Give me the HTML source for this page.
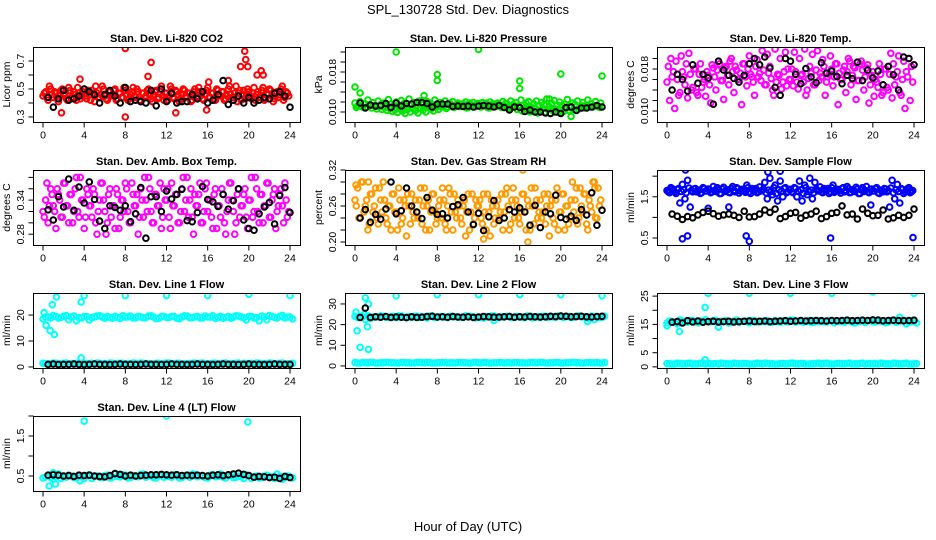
<!DOCTYPE html>
<html><head><meta charset="utf-8"><style>
html,body{margin:0;padding:0;background:#fff;}
svg{display:block;font-family:"Liberation Sans",Arial,sans-serif;}
</style></head><body>
<svg id="chart" width="936" height="540" viewBox="0 0 936 540">
<text x="468" y="14" text-anchor="middle" font-size="13">SPL_130728  Std. Dev. Diagnostics</text>
<text x="468" y="531" text-anchor="middle" font-size="13">Hour of Day (UTC)</text>
</svg>
<script>
// ---- data ----
const xTicks = [0,4,8,12,16,20,24];
const co2Col = [0.45,0.48,0.42,0.50,0.44,0.47,0.41,0.49,0.46,0.43,0.51,0.44,0.48,0.42,0.47,0.45,0.50,0.43,0.46,0.49,0.41,0.47,0.44,0.52,0.45,0.42,0.48,0.46,0.50,0.43,0.47,0.44,0.49,0.42,0.46,0.51,0.44,0.48,0.41,0.47,0.45,0.50,0.43,0.46,0.49,0.44,0.52,0.42,0.47,0.45,0.50,0.43,0.48,0.41,0.46,0.49,0.44,0.47,0.42,0.50,0.45,0.48,0.43,0.46,0.51,0.44,0.47,0.42,0.49,0.45,0.48,0.43,0.50,0.46,0.44,0.52,0.47,0.42,0.49,0.45,0.48,0.43,0.51,0.46,0.44,0.49,0.42,0.47,0.50,0.45,0.43,0.48,0.46,0.52,0.44,0.47];
const co2OutHr = [8,8,10.5,10.2,19.6,19.7,19.9,19.2,21.2,21.4,20.8,3.6,12.9,1.8,15.9,18,16.1];
const co2OutVal = [0.79,0.30,0.69,0.59,0.77,0.71,0.66,0.66,0.63,0.60,0.60,0.57,0.33,0.33,0.35,0.56,0.55];
const co2Blk = [0.44,0.37,0.43,0.49,0.42,0.43,0.45,0.50,0.48,0.46,0.40,0.46,0.49,0.45,0.40,0.51,0.41,0.42,0.41,0.40,0.49,0.38,0.50,0.41,0.47,0.40,0.41,0.41,0.46,0.43,0.48,0.40,0.42,0.46,0.56,0.39,0.42,0.45,0.40,0.44,0.40,0.42,0.44,0.43,0.47,0.48,0.45,0.37];

const presCol = [0.0118,0.0112,0.0121,0.0110,0.0116,0.0124,0.0113,0.0119,0.0111,0.0122,0.0115,0.0118,0.0112,0.0125,0.0116,0.0113,0.0120,0.0114,0.0123,0.0117,0.0111,0.0126,0.0115,0.0119,0.0113,0.0122,0.0116,0.0110,0.0121,0.0118,0.0114,0.0124,0.0112,0.0119,0.0115,0.0122,0.0110,0.0117,0.0121,0.0113,0.0118,0.0111,0.0116,0.0120,0.0109,0.0115,0.0119,0.0112,0.0117,0.0110,0.0114,0.0118,0.0108,0.0113,0.0116,0.0111,0.0115,0.0109,0.0112,0.0117,0.0107,0.0113,0.0110,0.0105,0.0109,0.0102,0.0106,0.0111,0.0100,0.0104,0.0108,0.0098,0.0103,0.0107,0.0100,0.0105,0.0097,0.0102,0.0106,0.0099,0.0104,0.0101,0.0107,0.0103,0.0109,0.0105,0.0111,0.0106,0.0113,0.0108,0.0114,0.0110,0.0116,0.0111,0.0113,0.0109];
const presOutHr = [0,0.5,4,8,8,12,16,16,20,24,18.9,21,6.7];
const presOutVal = [0.0150,0.0138,0.0220,0.0175,0.0163,0.0225,0.0162,0.0147,0.0176,0.0172,0.0126,0.0091,0.0133];
const presBlk = [0.0118,0.0108,0.0114,0.0112,0.0113,0.0117,0.0109,0.0118,0.0112,0.0117,0.0116,0.0119,0.0119,0.0117,0.0110,0.0116,0.0116,0.0116,0.0111,0.0112,0.0111,0.0112,0.0110,0.0112,0.0113,0.0112,0.0110,0.0113,0.0109,0.0104,0.0110,0.0109,0.0101,0.0104,0.0100,0.0100,0.0098,0.0097,0.0100,0.0097,0.0109,0.0110,0.0103,0.0108,0.0108,0.0110,0.0113,0.0110];

const tempCol = [0.0155,0.0120,0.0165,0.0105,0.0160,0.0135,0.0175,0.0150,0.0125,0.0170,0.0145,0.0180,0.0130,0.0190,0.0155,0.0128,0.0168,0.0115,0.0182,0.0140,0.0195,0.0158,0.0122,0.0185,0.0150,0.0200,0.0135,0.0178,0.0160,0.0112,0.0190,0.0148,0.0205,0.0165,0.0130,0.0198,0.0172,0.0215,0.0150,0.0208,0.0185,0.0140,0.0218,0.0170,0.0200,0.0155,0.0212,0.0180,0.0160,0.0148,0.0175,0.0142,0.0168,0.0155,0.0130,0.0162,0.0172,0.0150,0.0178,0.0158,0.0165,0.0185,0.0155,0.0170,0.0180,0.0165,0.0190,0.0172,0.0160,0.0185,0.0175,0.0195,0.0168,0.0182,0.0158,0.0190,0.0178,0.0165,0.0188,0.0150,0.0175,0.0160,0.0145,0.0170,0.0135,0.0180,0.0140,0.0210,0.0190,0.0165,0.0205,0.0130,0.0195,0.0175,0.0200,0.0185];
const tempBlk = [0.0140,0.0170,0.0160,0.0138,0.0188,0.0153,0.0170,0.0163,0.0113,0.0195,0.0178,0.0168,0.0162,0.0155,0.0168,0.0190,0.0200,0.0188,0.0203,0.0182,0.0145,0.0130,0.0200,0.0195,0.0170,0.0152,0.0181,0.0165,0.0154,0.0192,0.0172,0.0176,0.0166,0.0152,0.0168,0.0162,0.0193,0.0158,0.0178,0.0163,0.0176,0.0150,0.0185,0.0169,0.0140,0.0203,0.0200,0.0188];

const ambCol = [0.32,0.34,0.30,0.36,0.33,0.29,0.35,0.31,0.37,0.33,0.30,0.35,0.32,0.38,0.31,0.34,0.29,0.36,0.33,0.31,0.35,0.28,0.34,0.37,0.32,0.30,0.36,0.33,0.29,0.35,0.31,0.34,0.37,0.32,0.30,0.35,0.33,0.28,0.36,0.31,0.34,0.38,0.32,0.30,0.35,0.33,0.29,0.36,0.34,0.31,0.37,0.33,0.35,0.30,0.36,0.32,0.38,0.34,0.31,0.35,0.33,0.37,0.30,0.36,0.32,0.34,0.29,0.36,0.33,0.31,0.35,0.28,0.34,0.37,0.32,0.30,0.36,0.33,0.35,0.31,0.34,0.38,0.32,0.36,0.30,0.35,0.33,0.37,0.31,0.34,0.36,0.32,0.35,0.33,0.37,0.31];
const ambBlk = [0.323,0.305,0.346,0.328,0.377,0.322,0.363,0.335,0.372,0.341,0.303,0.290,0.330,0.327,0.322,0.330,0.302,0.316,0.362,0.273,0.346,0.346,0.320,0.356,0.342,0.350,0.359,0.304,0.302,0.318,0.364,0.341,0.337,0.329,0.350,0.324,0.339,0.360,0.305,0.290,0.287,0.316,0.328,0.336,0.298,0.348,0.362,0.318];

const rhCol = [0.27,0.29,0.24,0.30,0.26,0.22,0.28,0.25,0.29,0.23,0.27,0.30,0.24,0.26,0.22,0.28,0.25,0.29,0.23,0.27,0.21,0.26,0.28,0.24,0.25,0.27,0.23,0.29,0.26,0.22,0.28,0.25,0.24,0.27,0.29,0.23,0.26,0.28,0.22,0.25,0.27,0.24,0.26,0.21,0.28,0.25,0.23,0.27,0.26,0.24,0.28,0.22,0.25,0.27,0.23,0.26,0.24,0.28,0.25,0.29,0.22,0.27,0.24,0.26,0.23,0.28,0.25,0.27,0.22,0.26,0.29,0.24,0.27,0.25,0.23,0.28,0.26,0.24,0.27,0.22,0.25,0.28,0.26,0.23,0.27,0.25,0.29,0.24,0.26,0.28,0.23,0.27,0.25,0.30,0.24,0.26];
const rhOutHr = [16.3,12.5,16.8,0.1,1.3,23.3];
const rhOutVal = [0.32,0.205,0.20,0.295,0.30,0.29];
const rhBlk = [0.240,0.254,0.233,0.246,0.238,0.255,0.300,0.247,0.252,0.290,0.260,0.250,0.239,0.274,0.253,0.246,0.247,0.240,0.259,0.262,0.274,0.250,0.229,0.248,0.219,0.242,0.269,0.236,0.240,0.254,0.250,0.257,0.250,0.228,0.261,0.224,0.250,0.247,0.278,0.241,0.238,0.243,0.236,0.254,0.245,0.282,0.228,0.253];

const flowCol = [1.65,1.60,1.70,1.62,1.68,1.35,1.80,1.45,1.90,1.25,1.62,1.70,1.66,1.58,1.72,1.64,1.69,1.60,1.75,1.63,1.67,1.58,1.73,1.65,1.61,1.70,1.66,1.72,1.59,1.68,1.64,1.78,1.62,1.70,1.66,1.60,1.74,1.65,1.85,1.45,1.95,1.55,1.78,1.40,1.88,1.50,1.72,1.62,1.68,1.60,1.70,1.64,1.67,1.58,1.72,1.63,1.66,1.60,1.69,1.64,1.62,1.70,1.65,1.58,1.72,1.61,1.68,1.64,1.70,1.62,1.75,1.60,1.67,1.63,1.69,1.58,1.72,1.65,1.62,1.68,1.64,1.70,1.60,1.66,1.62,1.69,1.65,1.71,1.60,1.67,1.63,1.70,1.58,1.66,1.72,1.62];
const flowOutHr = [1.5,2.0,7.7,8.0,15.9,23.9,1.8,9.8,11.0,19.8,6.0,4.0];
const flowOutVal = [0.48,0.55,0.55,0.42,0.50,0.51,2.15,2.10,2.12,1.30,1.25,1.22];
const flowBlk = [1.08,1.03,0.95,1.02,0.99,1.06,1.12,1.15,1.09,1.03,1.06,1.08,1.05,1.00,1.15,1.01,1.02,1.08,1.18,1.12,1.20,0.97,1.02,1.10,1.12,0.98,1.05,1.08,1.15,0.97,1.02,1.10,1.12,1.28,1.06,1.08,0.96,1.20,1.10,1.04,1.05,1.18,0.96,0.99,1.05,1.00,1.05,1.20];

const l1Up = [18.5,19.2,19.8,18.9,19.5,18.2,19.6,19.0,19.4,18.1,19.3,19.7,18.8,19.1,19.5,18.7,19.2,19.6,18.9,19.3,19.0,19.7,18.6,19.4,19.1,19.5,18.8,19.2,19.6,19.0,19.4,18.9,19.3,19.7,19.1,18.8,19.5,19.2,19.6,19.0,19.4,18.9,17.8,19.3,19.8,19.1,19.5,18.9,19.2];
const l1Low = [1.4,1.2,1.5,1.3,1.4,1.2,1.3,1.5,1.4,1.3,1.2,1.4,1.3,1.5,1.3,1.4,1.2,1.3,1.4,1.5,1.3,1.2,1.4,1.3,1.5,1.3,1.4,1.2,1.3,1.4,1.3,1.5,1.2,1.4,1.3,1.4,1.2,1.3,1.5,1.4,1.3,1.2,1.4,1.3,1.5,1.3,1.4,1.2,1.3];
const l1OutHr = [0.1,0.3,0.7,1.1,0.9,1.3,3.7,4,8,12,16,20,24,3.7];
const l1OutVal = [21,16,14,12.5,24,27,25,27.5,27.5,27.5,27.5,28,27.5,3.5];
const l1Blk = [1.0,1.1,0.9,1.0,1.0,1.1,1.0,0.9,1.0,1.1,1.0,1.0,0.9,1.0,1.1,1.0,1.0,0.9,1.0,1.1,1.0,1.0,0.9,1.0,1.1,1.0,1.0,0.9,1.0,1.1,1.0,1.0,0.9,1.0,1.1,1.0,1.0,0.9,1.0,1.1,1.0,1.0,0.9,1.0,1.1,1.0,1.0,1.0];

const l2Up = [24.0,23.5,22.5,23.0,23.8,24.2,23.6,23.9,23.4,24.1,23.7,23.5,24.0,23.8,23.3,24.2,23.6,23.9,23.4,24.0,23.7,23.5,24.1,23.8,23.6,23.2,23.9,24.2,23.5,23.8,24.0,23.6,23.9,23.4,24.1,23.7,23.5,24.0,23.8,23.6,24.2,23.9,23.5,24.0,23.7,23.6,24.1,23.8,23.5];
const l2Low = [1.6,1.4,1.5,1.6,1.4,1.5,1.7,1.5,1.4,1.6,1.5,1.4,1.6,1.5,1.7,1.4,1.5,1.6,1.4,1.5,1.6,1.5,1.4,1.6,1.5,1.7,1.4,1.5,1.6,1.4,1.5,1.6,1.5,1.4,1.6,1.5,1.7,1.4,1.5,1.6,1.4,1.5,1.6,1.5,1.4,1.6,1.5,1.6,1.4];
const l2OutHr = [0.1,0.2,0.5,0.9,1.0,1.2,1.3,1.3,4,8,12,16,20,24,22.6,13.5];
const l2OutVal = [26,17,9,25,33,19,30,8,34,34.5,34.5,34.5,34.5,34,21.5,22];
const l2Blk = [23.5,28.0,23.5,23.8,23.6,23.9,23.5,23.7,23.6,23.4,23.8,23.5,23.6,23.9,24.0,23.7,23.8,23.6,23.9,23.7,23.6,23.8,23.5,23.7,23.9,23.8,23.6,23.7,23.8,23.9,23.6,23.8,23.7,23.9,23.8,23.7,23.8,24.0,23.9,24.1,24.0,23.8,23.9,24.0,23.8,23.7,23.9,24.0];

const l3Up = [15.5,16.0,15.2,16.2,15.8,16.4,15.6,16.1,15.9,16.3,15.7,16.0,15.5,16.2,15.8,16.1,15.6,16.3,15.9,16.0,15.7,16.4,15.8,16.1,16.5,15.9,16.2,16.0,15.8,16.3,16.1,15.9,16.4,16.2,16.0,16.5,15.8,16.3,16.1,16.4,16.0,16.6,16.2,15.9,16.3,16.1,16.5,15.8,16.2];
const l3Low = [1.2,1.0,1.3,1.1,1.2,1.0,1.1,1.3,1.2,1.1,1.0,1.2,1.1,1.3,1.1,1.2,1.0,1.1,1.2,1.3,1.1,1.0,1.2,1.1,1.3,1.1,1.2,1.0,1.1,1.2,1.1,1.3,1.0,1.2,1.1,1.2,1.0,1.1,1.3,1.2,1.1,1.0,1.2,1.1,1.3,1.1,1.2,1.0,1.1];
const l3OutHr = [0,1.2,3.7,4,8,12,16,20,24,3.7,22.6,5];
const l3OutVal = [14.5,12.5,21,26,26,26,26,26.5,26,2.5,17.5,14];
const l3Blk = [15.8,16.0,15.5,16.3,15.9,16.2,15.8,16.0,16.1,15.9,16.0,16.1,15.9,16.0,16.1,16.2,16.0,16.1,16.2,16.0,16.1,16.2,16.3,16.1,16.2,16.4,16.2,16.3,16.4,16.3,16.2,16.4,16.3,16.4,16.5,16.3,16.4,16.5,16.4,16.6,16.5,16.3,16.4,16.5,16.4,16.3,16.4,16.5];

const l4Col = [0.45,0.50,0.42,0.55,0.48,0.52,0.46,0.50,0.44,0.53,0.49,0.47,0.51,0.45,0.55,0.48,0.52,0.46,0.50,0.54,0.47,0.51,0.45,0.53,0.49,0.47,0.52,0.46,0.50,0.55,0.48,0.51,0.45,0.53,0.49,0.47,0.52,0.46,0.50,0.44,0.51,0.48,0.45,0.50,0.47,0.44,0.49,0.46,0.48];
const l4OutHr = [4,12,19.9,0.6,1.2,3.6,1.0];
const l4OutVal = [1.87,2.0,1.85,0.25,0.30,0.38,0.58];
const l4Blk = [0.52,0.53,0.52,0.50,0.51,0.49,0.52,0.51,0.52,0.50,0.49,0.48,0.51,0.56,0.54,0.50,0.52,0.50,0.51,0.52,0.53,0.53,0.54,0.53,0.52,0.53,0.51,0.52,0.51,0.52,0.51,0.50,0.52,0.53,0.51,0.53,0.55,0.57,0.54,0.51,0.47,0.49,0.48,0.46,0.47,0.44,0.49,0.46];

// hour grids (time stamps)
const hrs96 = []; for (let i = 0; i < 96; i++) hrs96.push(i * 0.25);
const hrs49 = []; for (let i = 0; i < 49; i++) hrs49.push(i * 0.5);
const hrsBlk = []; for (let i = 1; i <= 48; i++) hrsBlk.push(i * 0.5);

// ---- drawing ----
const NS = 'http://www.w3.org/2000/svg';
const svg = document.getElementById('chart');
function mk(tag, attrs, parent) {
  const e = document.createElementNS(NS, tag);
  for (const k in attrs) e.setAttribute(k, attrs[k]);
  (parent || svg).appendChild(e);
  return e;
}
const BW = 267, BH = 75;
function panel(p) {
  const g = mk('g', {});
  
  
  const L = p.left, T = p.top;
  const xs = h => L + 10 + h * (247 / 24);
  const ys = v => T + BH - (v - p.ymin) / (p.ymax - p.ymin) * BH;
  const t = mk('text', {x: L + BW / 2, y: T - 5, 'text-anchor': 'middle', 'font-size': 11, 'font-weight': 'bold'}, g);
  t.textContent = p.title;
  
  
  const clip = mk('clipPath', {id: 'c-' + p.name}, g);
  mk('rect', {x: L, y: T, width: BW, height: BH}, clip);
  const pts = mk('g', {'clip-path': 'url(#c-' + p.name + ')', fill: 'none', 'stroke-width': 2}, g);
  function series(hs, vs, color, nm, dense) {
    const sg = mk('g', {stroke: color}, pts);
    
    
    const n = vs.length;
    for (let i = 0; i < n; i++) {
      mk('circle', {cx: xs(hs[i]).toFixed(1), cy: ys(vs[i]).toFixed(1), r: 2.8}, sg);
    }
    if (dense) {
      const step = hs[1] - hs[0];
      for (let i = 0; i < n; i++) {
        mk('circle', {cx: xs(hs[i] + step / 2).toFixed(1), cy: ys(vs[n - 1 - i]).toFixed(1), r: 2.8}, sg);
      }
    }
  }
  p.series.forEach(s => series(s[0], s[1], s[2], p.name + '-' + s[3], s[4]));
  const box = mk('rect', {x: L + .5, y: T + .5, width: BW, height: BH, fill: 'none', stroke: '#000', 'stroke-width': 1}, g);
  
  
  const xa = mk('g', {stroke: '#000', 'stroke-width': 1}, g);
  
  
  const B = T + BH + .5;
  mk('line', {x1: xs(0), x2: xs(24), y1: B, y2: B}, xa);
  xTicks.forEach(v => {
    mk('line', {x1: xs(v), x2: xs(v), y1: B, y2: B + 5}, xa);
    const tx = mk('text', {x: xs(v), y: B + 16, 'text-anchor': 'middle', 'font-size': 10.5, stroke: 'none', fill: '#000'}, xa);
    tx.textContent = v;
  });
  const ya = mk('g', {stroke: '#000', 'stroke-width': 1}, g);
  
  
  const Lx = L + .5;
  mk('line', {x1: Lx, x2: Lx, y1: ys(p.yt[0]), y2: ys(p.yt[p.yt.length - 1])}, ya);
  p.yt.forEach((v, i) => {
    const y = ys(v);
    mk('line', {x1: Lx - 5, x2: Lx, y1: y, y2: y}, ya);
    if (p.yl[i]) {
      const tx = mk('text', {x: 0, y: 0, transform: 'translate(' + (L - 9) + ',' + y + ') rotate(-90)', 'text-anchor': 'middle', 'font-size': 10.5, stroke: 'none', fill: '#000'}, ya);
      tx.textContent = p.yl[i];
    }
  });
  const yt = mk('text', {x: 0, y: 0, transform: 'translate(' + (L - 23) + ',' + (T + BH / 2) + ') rotate(-90)', 'text-anchor': 'middle', 'font-size': 10.5}, g);
  yt.textContent = p.ylab;
  
  
}
const C = [33, 345, 657], R = [47, 170, 293, 416];
panel({name: 'co2', title: 'Stan. Dev. Li-820 CO2', left: C[0], top: R[0], ymin: 0.264, ymax: 0.80, ylab: 'Licor ppm',
  yt: [0.3,0.4,0.5,0.6,0.7], yl: ['0.3','','0.5','','0.7'],
  series: [[hrs96, co2Col, '#ff0000', 'red-points', true], [co2OutHr, co2OutVal, '#ff0000', 'red-outliers'], [hrsBlk, co2Blk, '#000', 'black-points']]});
panel({name: 'pressure', title: 'Stan. Dev. Li-820 Pressure', left: C[1], top: R[0], ymin: 0.008, ymax: 0.023, ylab: 'kPa',
  yt: [0.010,0.012,0.014,0.016,0.018,0.020,0.022], yl: ['0.010','','','','0.018','',''],
  series: [[hrs96, presCol, '#00e600', 'green-points', true], [presOutHr, presOutVal, '#00e600', 'green-outliers'], [hrsBlk, presBlk, '#000', 'black-points']]});
panel({name: 'temp', title: 'Stan. Dev. Li-820 Temp.', left: C[2], top: R[0], ymin: 0.0079, ymax: 0.0222, ylab: 'degrees C',
  yt: [0.010,0.012,0.014,0.016,0.018,0.020], yl: ['0.010','','','','0.018',''],
  series: [[hrs96, tempCol, '#ff00ff', 'magenta-points', true], [hrsBlk, tempBlk, '#000', 'black-points']]});
panel({name: 'ambtemp', title: 'Stan. Dev. Amb. Box Temp.', left: C[0], top: R[1], ymin: 0.261, ymax: 0.393, ylab: 'degrees C',
  yt: [0.28,0.30,0.32,0.34,0.36,0.38], yl: ['0.28','','','0.34','',''],
  series: [[hrs96, ambCol, '#ff00ff', 'magenta-points', true], [hrsBlk, ambBlk, '#000', 'black-points']]});
panel({name: 'rh', title: 'Stan. Dev. Gas Stream RH', left: C[1], top: R[1], ymin: 0.195, ymax: 0.32, ylab: 'percent',
  yt: [0.20,0.22,0.24,0.26,0.28,0.30,0.32], yl: ['0.20','','','0.26','','','0.32'],
  series: [[hrs96, rhCol, '#ff9900', 'orange-points', true], [rhOutHr, rhOutVal, '#ff9900', 'orange-outliers'], [hrsBlk, rhBlk, '#000', 'black-points']]});
panel({name: 'sampleflow', title: 'Stan. Dev. Sample Flow', left: C[2], top: R[1], ymin: 0.33, ymax: 2.15, ylab: 'ml/min',
  yt: [0.5,1.0,1.5,2.0], yl: ['0.5','','1.5',''],
  series: [[hrs96, flowCol, '#0000ff', 'blue-points', true], [flowOutHr, flowOutVal, '#0000ff', 'blue-outliers'], [hrsBlk, flowBlk, '#000', 'black-points']]});
panel({name: 'line1', title: 'Stan. Dev. Line 1 Flow', left: C[0], top: R[2], ymin: -0.4, ymax: 28.5, ylab: 'ml/min',
  yt: [0,10,20], yl: ['0','10','20'],
  series: [[hrs49, l1Up, '#00ffff', 'cyan-upper', true], [hrs49, l1Low, '#00ffff', 'cyan-lower', true], [l1OutHr, l1OutVal, '#00ffff', 'cyan-outliers'], [hrsBlk, l1Blk, '#000', 'black-points']]});
panel({name: 'line2', title: 'Stan. Dev. Line 2 Flow', left: C[1], top: R[2], ymin: -1, ymax: 35.3, ylab: 'ml/min',
  yt: [0,10,20,30], yl: ['0','10','20','30'],
  series: [[hrs49, l2Up, '#00ffff', 'cyan-upper', true], [hrs49, l2Low, '#00ffff', 'cyan-lower', true], [l2OutHr, l2OutVal, '#00ffff', 'cyan-outliers'], [hrsBlk, l2Blk, '#000', 'black-points']]});
panel({name: 'line3', title: 'Stan. Dev. Line 3 Flow', left: C[2], top: R[2], ymin: -0.4, ymax: 26.1, ylab: 'ml/min',
  yt: [0,5,10,15,20,25], yl: ['0','5','','15','','25'],
  series: [[hrs49, l3Up, '#00ffff', 'cyan-upper', true], [hrs49, l3Low, '#00ffff', 'cyan-lower', true], [l3OutHr, l3OutVal, '#00ffff', 'cyan-outliers'], [hrsBlk, l3Blk, '#000', 'black-points']]});
panel({name: 'line4', title: 'Stan. Dev. Line 4 (LT) Flow', left: C[0], top: R[3], ymin: 0.125, ymax: 2.0, ylab: 'ml/min',
  yt: [0.5,1.0,1.5,2.0], yl: ['0.5','','1.5',''],
  series: [[hrs49, l4Col, '#00ffff', 'cyan-points', true], [l4OutHr, l4OutVal, '#00ffff', 'cyan-outliers'], [hrsBlk, l4Blk, '#000', 'black-points']]});
</script>
</body></html>
